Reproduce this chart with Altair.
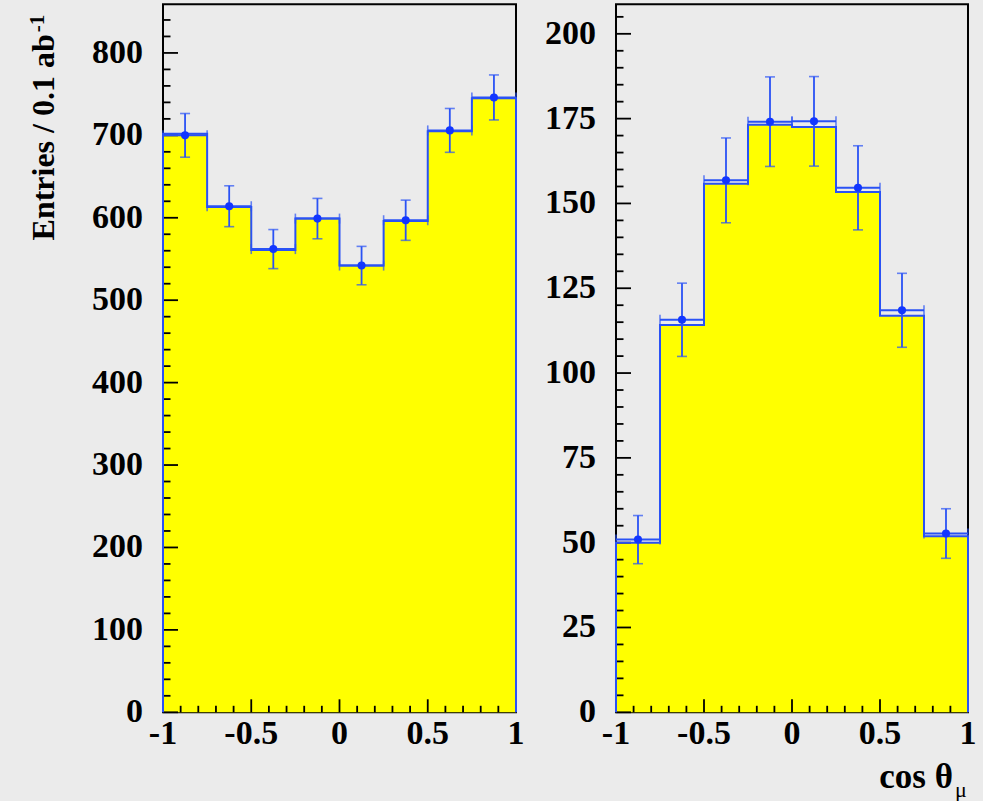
import altair as alt
import pandas as pd

# ---- histogram binning in cos(theta_mu) ----
bin_lo = [-1.0, -0.75, -0.5, -0.25, 0.0, 0.25, 0.5, 0.75]
bin_hi = [-0.75, -0.5, -0.25, 0.0, 0.25, 0.5, 0.75, 1.0]
bin_mid = [-0.875, -0.625, -0.375, -0.125, 0.125, 0.375, 0.625, 0.875]

# left panel: measured entries, their errors, expectation
left_data = [700, 614, 562, 599, 542, 597, 706, 746]
left_err = [26.5, 24.8, 23.7, 24.5, 23.3, 24.4, 26.6, 27.3]
left_mc = [702, 613, 561, 599, 542, 596, 705, 745]

# right panel
right_data = [50.9, 115.7, 156.8, 174.1, 174.2, 154.6, 118.5, 52.7]
right_err = [7.1, 10.8, 12.5, 13.2, 13.2, 12.4, 10.9, 7.3]
right_mc = [50.0, 114.2, 155.8, 173.2, 172.5, 153.4, 116.9, 51.9]

# axis ticks and their labels
x_major = [-1, -0.5, 0, 0.5, 1]
x_labels = ["-1", "-0.5", "0", "0.5", "1"]
x_minor = [-0.9, -0.8, -0.7, -0.6, -0.4, -0.3, -0.2, -0.1,
           0.1, 0.2, 0.3, 0.4, 0.6, 0.7, 0.8, 0.9]
left_y_major = [0, 100, 200, 300, 400, 500, 600, 700, 800]
left_y_minor = [v for v in range(20, 860, 20) if v % 100]
right_y_major = [0, 25, 50, 75, 100, 125, 150, 175, 200]
right_y_minor = [v for v in range(5, 209, 5) if v % 25]

LEFT_YMAX = 859
RIGHT_YMAX = 208.7

H = 708
FONT = "Liberation Serif"
LABEL_SIZE = 34
LINE = "#2a52f5"
DOT = "#1236ff"
BG = "#ebebeb"


def panel(data, err, mc, ymax, y_major, y_minor, width, extra=None):
    xs = alt.Scale(domain=[-1, 1], nice=False, zero=False)
    ys = alt.Scale(domain=[0, ymax], nice=False, zero=True)

    bins = pd.DataFrame({"lo": bin_lo, "hi": bin_hi, "mid": bin_mid,
                         "val": data, "err": err})
    bins["dlo"] = bins["val"] - bins["err"]
    bins["dhi"] = bins["val"] + bins["err"]

    fill = pd.DataFrame({"x": bin_lo + [1.0], "y": mc + [mc[-1]]})
    outline = pd.DataFrame({"x": [-1.0] + bin_lo + [1.0, 1.0],
                            "y": [0] + mc + [mc[-1], 0]})
    outline["k"] = range(len(outline))
    edges = pd.DataFrame({"x": bin_lo + bin_hi, "y": data + data})

    X = lambda f: alt.X(f, scale=xs, axis=None)
    Y = lambda f: alt.Y(f, scale=ys, axis=None)

    area = alt.Chart(fill).mark_area(
        interpolate="step-after", color="#ffff00", opacity=1
    ).encode(x=X("x:Q"), y=Y("y:Q"))

    def ticks(vals, horizontal, length):
        df = pd.DataFrame({"v": vals})
        base = alt.Chart(df).mark_rule(color="black", strokeWidth=1.8)
        if horizontal:
            return base.encode(y=Y("v:Q"), x=alt.value(0), x2=alt.value(length))
        return base.encode(x=X("v:Q"), y=alt.value(H), y2=alt.value(H - length))

    ylab = alt.Chart(pd.DataFrame({"v": y_major, "t": [str(v) for v in y_major]})
                     ).mark_text(align="right", baseline="middle", font=FONT,
                                 fontSize=LABEL_SIZE, fontWeight="bold",
                                 color="black"
                                 ).encode(y=Y("v:Q"), x=alt.value(-20), text="t:N")
    xlab = alt.Chart(pd.DataFrame({"v": x_major, "t": x_labels})
                     ).mark_text(align="center", baseline="top", font=FONT,
                                 fontSize=LABEL_SIZE, fontWeight="bold",
                                 color="black"
                                 ).encode(x=X("v:Q"), y=alt.value(H + 5), text="t:N")

    line = alt.Chart(outline).mark_line(
        interpolate="step-after", color=LINE, strokeWidth=2
    ).encode(x=X("x:Q"), y=Y("y:Q"), order="k:Q")

    xerr = alt.Chart(bins).mark_rule(color=LINE, strokeWidth=2).encode(
        x=X("lo:Q"), x2="hi:Q", y=Y("val:Q"))
    xcap = alt.Chart(edges).mark_tick(
        orient="vertical", color=LINE, size=10, thickness=1.6
    ).encode(x=X("x:Q"), y=Y("y:Q"))
    yerr = alt.Chart(bins).mark_rule(color=LINE, strokeWidth=1.8).encode(
        x=X("mid:Q"), y=Y("dlo:Q"), y2="dhi:Q")
    ycap_lo = alt.Chart(bins).mark_tick(
        orient="horizontal", color=LINE, size=10, thickness=1.6
    ).encode(x=X("mid:Q"), y=Y("dlo:Q"))
    ycap_hi = alt.Chart(bins).mark_tick(
        orient="horizontal", color=LINE, size=10, thickness=1.6
    ).encode(x=X("mid:Q"), y=Y("dhi:Q"))
    pts = alt.Chart(bins).mark_point(
        filled=True, shape="circle", size=65, color=DOT, opacity=1
    ).encode(x=X("mid:Q"), y=Y("val:Q"))

    layers = [area,
              ticks(y_major, True, 15), ticks(y_minor, True, 7.5),
              ticks(x_major, False, 13), ticks(x_minor, False, 6.5),
              line, xerr, xcap, yerr, ycap_lo, ycap_hi, pts, ylab, xlab]
    if extra:
        layers += extra
    return alt.layer(*layers).properties(width=width, height=H)


# axis titles drawn as text so the exponent / subscript can be set smaller
ytitle = alt.Chart(pd.DataFrame({"t": ["Entries / 0.1 ab"]})).mark_text(
    angle=270, align="right", baseline="alphabetic", font=FONT,
    fontSize=32, fontWeight="bold", color="black"
).encode(x=alt.value(-109.5), y=alt.value(30), text="t:N")
ytitle_exp = alt.Chart(pd.DataFrame({"t": ["-1"]})).mark_text(
    angle=270, align="left", baseline="alphabetic", font=FONT,
    fontSize=21, fontWeight="bold", color="black"
).encode(x=alt.value(-119), y=alt.value(28), text="t:N")

xtitle = alt.Chart(pd.DataFrame({"t": ["cos θ"]})).mark_text(
    align="right", baseline="alphabetic", font=FONT,
    fontSize=35, fontWeight="bold", color="black"
).encode(x=alt.value(337), y=alt.value(784), text="t:N")
xtitle_sub = alt.Chart(pd.DataFrame({"t": ["μ"]})).mark_text(
    align="left", baseline="alphabetic", font=FONT,
    fontSize=22, color="black"
).encode(x=alt.value(339), y=alt.value(793), text="t:N")

left = panel(left_data, left_err, left_mc, LEFT_YMAX,
             left_y_major, left_y_minor, 353, [ytitle, ytitle_exp])
right = panel(right_data, right_err, right_mc, RIGHT_YMAX,
              right_y_major, right_y_minor, 352, [xtitle, xtitle_sub])

chart = alt.hconcat(left, right, spacing=100, bounds="flush").properties(
    padding={"left": 26, "top": 3.3, "right": 5, "bottom": 0},
    background=BG,
).configure_view(
    stroke="black", strokeWidth=2
)

chart.save("out.html", embed_options={"renderer": "svg", "actions": False})
